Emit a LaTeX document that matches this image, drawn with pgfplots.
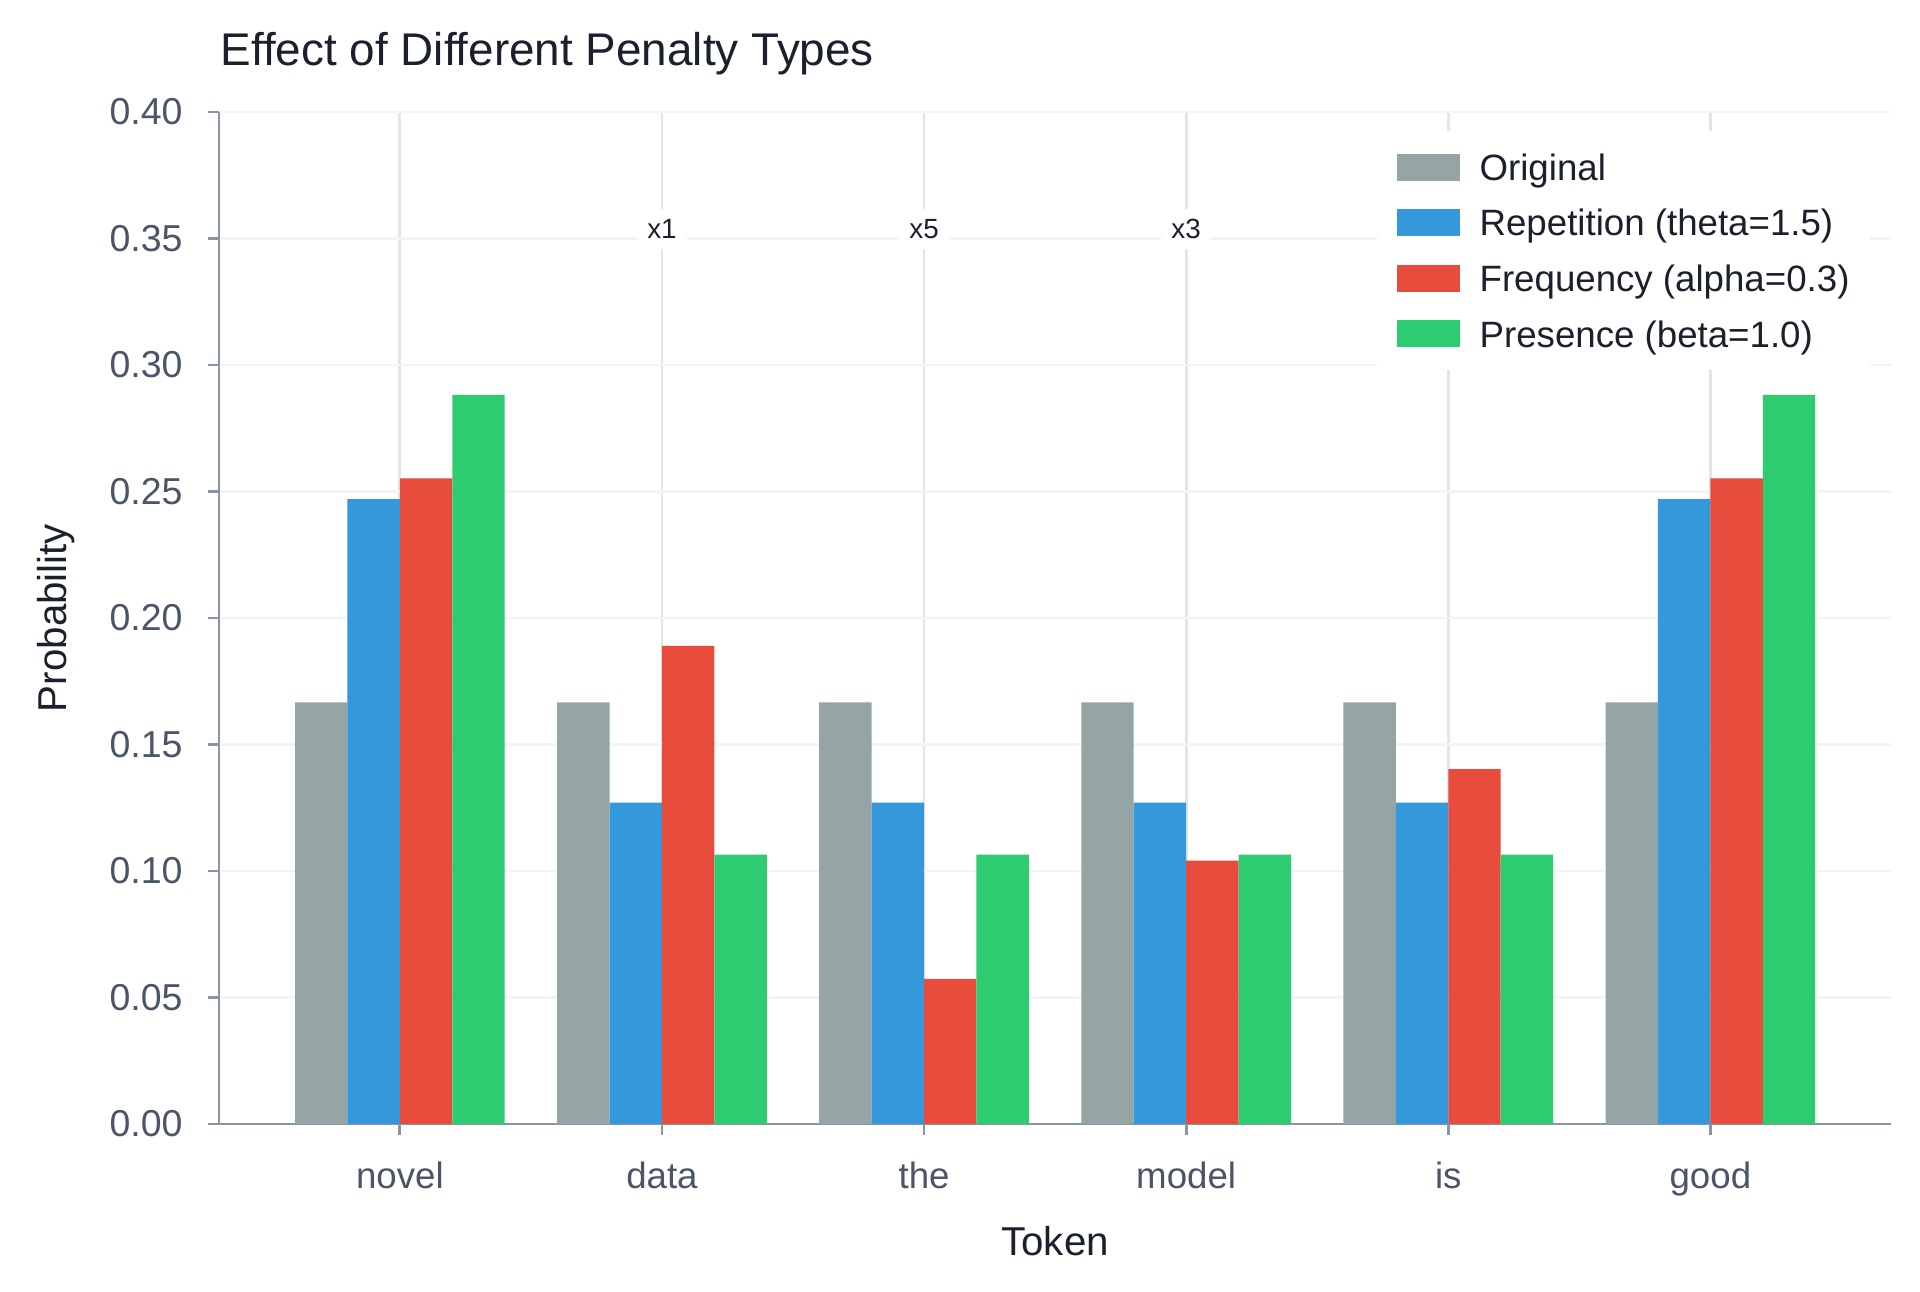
\documentclass[border=0pt]{standalone}
\usepackage{fontspec}
\setmainfont{Liberation Sans}
\usepackage{pgfplots}
\pgfplotsset{compat=1.18}
\pgfplotsset{mylegend/.style={legend image code/.code={\fill[##1] (0pt,-4.85pt) rectangle (22.7pt,4.85pt);}}}
\definecolor{cgray}{HTML}{95A5A6}
\definecolor{cblue}{HTML}{3498DB}
\definecolor{cred}{HTML}{E74C3C}
\definecolor{cgreen}{HTML}{2ECC71}
\definecolor{axiscol}{RGB}{138,148,166}
\definecolor{tickcol}{RGB}{74,85,104}
\definecolor{titlecol}{RGB}{26,32,44}
\definecolor{xgridcol}{RGB}{226,230,235}
\definecolor{ygridcol}{RGB}{243,244,246}
\begin{document}
\begin{tikzpicture}
\useasboundingbox (-78.84pt,-60.48pt) rectangle (612.36pt,404.64pt);
\begin{axis}[
  at={(0pt,0pt)}, anchor=south west,
  scale only axis, width=602pt, height=364.3pt,
  xmin=-0.69, xmax=5.69, ymin=0, ymax=0.4,
  axis lines=left, axis line style={-, draw=axiscol, line width=1pt},
  tick align=outside, major tick length=4pt,
  tick style={draw=axiscol, line width=1pt},
  xtick={0,1,2,3,4,5}, xticklabels={novel,data,the,model,is,good},
  ytick={0,0.05,0.1,0.15,0.2,0.25,0.3,0.35,0.4},
  scaled y ticks=false,
  yticklabel style={/pgf/number format/fixed, /pgf/number format/precision=2, /pgf/number format/fixed zerofill, /pgf/number format/assume math mode=true},
  y tick label style={font=\fontsize{13.5}{16}\selectfont, text=tickcol, inner sep=0pt, anchor=east, xshift=-8.9pt},
  x tick label style={font=\fontsize{13.2}{16}\selectfont, text=tickcol, inner sep=0pt, anchor=base, yshift=-19.2pt},
  xmajorgrids, ymajorgrids,
  major x grid style={draw=xgridcol, line width=1pt},
  major y grid style={draw=ygridcol, line width=1pt},
  every axis title shift=0pt,
  title={Effect of Different Penalty Types},
  title style={at={(axis description cs:0.0007,1.0456)}, anchor=base west, inner sep=0pt, font=\fontsize{16.5}{20}\selectfont, text=titlecol},
  xlabel={Token},
  xlabel style={at={(axis description cs:0.5,-0.1295)}, anchor=base, inner sep=0pt, font=\fontsize{14.5}{17}\selectfont, text=titlecol},
  ylabel={Probability},
  ylabel style={at={(axis description cs:-0.0909,0.5)}, anchor=base, inner sep=0pt, font=\fontsize{14.5}{17}\selectfont, text=titlecol},
  legend cell align=left,
  legend style={at={(1,1)}, anchor=north east, xshift=-7.6pt, yshift=-6.5pt, draw=none, fill=white, inner xsep=7.2pt, inner ysep=8.3pt, row sep=10.3pt, column sep=7.2pt, font=\fontsize{13.2}{16}\selectfont, text=titlecol, nodes={inner sep=0pt, text height=9.5pt, text depth=0pt}},
  clip=false,
]
\addplot[ybar, bar width=0.2, bar shift=-0.3, fill=cgray, draw=none, mylegend] coordinates {(0,0.1667) (1,0.1667) (2,0.1667) (3,0.1667) (4,0.1667) (5,0.1667)};
\addlegendentry{Original}
\addplot[ybar, bar width=0.2, bar shift=-0.1, fill=cblue, draw=none, mylegend] coordinates {(0,0.2470) (1,0.1270) (2,0.1270) (3,0.1270) (4,0.1270) (5,0.2470)};
\addlegendentry{Repetition (theta=1.5)}
\addplot[ybar, bar width=0.2, bar shift=0.1, fill=cred, draw=none, mylegend] coordinates {(0,0.2552) (1,0.1890) (2,0.0574) (3,0.1041) (4,0.1403) (5,0.2552)};
\addlegendentry{Frequency (alpha=0.3)}
\addplot[ybar, bar width=0.2, bar shift=0.3, fill=cgreen, draw=none, mylegend] coordinates {(0,0.2882) (1,0.1065) (2,0.1065) (3,0.1065) (4,0.1065) (5,0.2882)};
\addlegendentry{Presence (beta=1.0)}
\node[anchor=base, fill=white, inner sep=3.6pt, font=\fontsize{10}{12}\selectfont, text=titlecol] at (axis cs:1,0.35) {x1};
\node[anchor=base, fill=white, inner sep=3.6pt, font=\fontsize{10}{12}\selectfont, text=titlecol] at (axis cs:2,0.35) {x5};
\node[anchor=base, fill=white, inner sep=3.6pt, font=\fontsize{10}{12}\selectfont, text=titlecol] at (axis cs:3,0.35) {x3};
\end{axis}
\end{tikzpicture}
\end{document}
